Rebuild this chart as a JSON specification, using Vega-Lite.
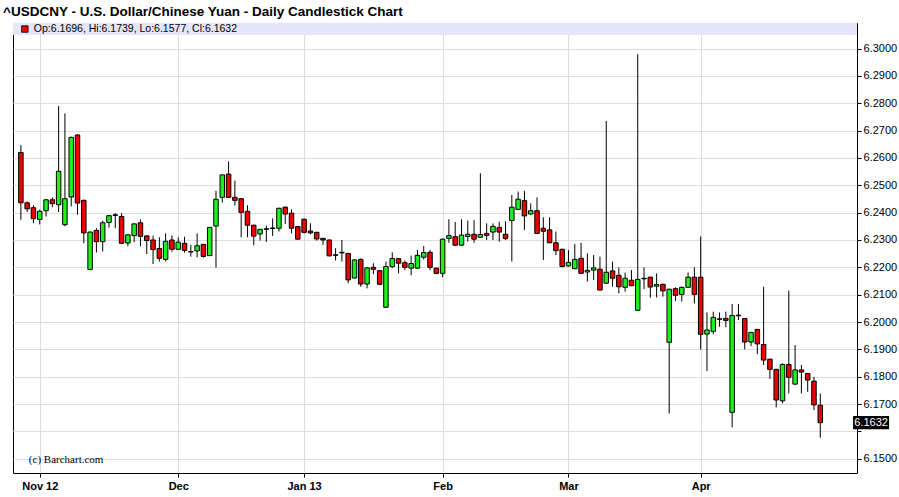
{
  "$schema": "https://vega.github.io/schema/vega-lite/v6.json",
  "autosize": "none",
  "width": 844,
  "height": 450,
  "padding": {"left": 13, "top": 23, "right": 42, "bottom": 24},
  "background": "#ffffff",
  "title": {"text": "^USDCNY - U.S. Dollar/Chinese Yuan - Daily Candlestick Chart", "anchor": "start", "font": "Liberation Sans", "fontSize": 13.5, "fontWeight": "bold", "color": "#000000", "dx": -10, "offset": 4},
  "config": {
    "view": {"stroke": "#000000", "strokeWidth": 1},
    "axis": {"domain": false, "gridColor": "#dcdcdc", "gridWidth": 1, "tickColor": "#000000", "labelColor": "#000000", "labelFont": "Liberation Sans", "labelOverlap": false, "labelSeparation": 0}
  },
  "data": {"values": [
    {"i":0,"o":6.2620,"h":6.2647,"l":6.2374,"c":6.2436},
    {"i":1,"o":6.2436,"h":6.2441,"l":6.2402,"c":6.2414},
    {"i":2,"o":6.2418,"h":6.2427,"l":6.2362,"c":6.2378},
    {"i":3,"o":6.2375,"h":6.2411,"l":6.2357,"c":6.2405},
    {"i":4,"o":6.2407,"h":6.2449,"l":6.2386,"c":6.2447},
    {"i":5,"o":6.2447,"h":6.2456,"l":6.2420,"c":6.2433},
    {"i":6,"o":6.2429,"h":6.2790,"l":6.2402,"c":6.2551},
    {"i":7,"o":6.2356,"h":6.2763,"l":6.2350,"c":6.2451},
    {"i":8,"o":6.2457,"h":6.2678,"l":6.2423,"c":6.2675},
    {"i":9,"o":6.2684,"h":6.2686,"l":6.2392,"c":6.2435},
    {"i":10,"o":6.2445,"h":6.2448,"l":6.2288,"c":6.2326},
    {"i":11,"o":6.2192,"h":6.2331,"l":6.2190,"c":6.2329},
    {"i":12,"o":6.2335,"h":6.2343,"l":6.2254,"c":6.2294},
    {"i":13,"o":6.2294,"h":6.2371,"l":6.2258,"c":6.2363},
    {"i":14,"o":6.2364,"h":6.2390,"l":6.2345,"c":6.2389},
    {"i":15,"o":6.2392,"h":6.2398,"l":6.2343,"c":6.2390},
    {"i":16,"o":6.2386,"h":6.2398,"l":6.2286,"c":6.2288},
    {"i":17,"o":6.2289,"h":6.2320,"l":6.2277,"c":6.2319},
    {"i":18,"o":6.2316,"h":6.2360,"l":6.2292,"c":6.2359},
    {"i":19,"o":6.2363,"h":6.2375,"l":6.2277,"c":6.2313},
    {"i":20,"o":6.2315,"h":6.2317,"l":6.2249,"c":6.2298},
    {"i":21,"o":6.2300,"h":6.2316,"l":6.2212,"c":6.2265},
    {"i":22,"o":6.2269,"h":6.2310,"l":6.2221,"c":6.2233},
    {"i":23,"o":6.2229,"h":6.2324,"l":6.2221,"c":6.2295},
    {"i":24,"o":6.2300,"h":6.2317,"l":6.2257,"c":6.2266},
    {"i":25,"o":6.2266,"h":6.2310,"l":6.2264,"c":6.2292},
    {"i":26,"o":6.2288,"h":6.2312,"l":6.2254,"c":6.2262},
    {"i":27,"o":6.2258,"h":6.2282,"l":6.2239,"c":6.2256},
    {"i":28,"o":6.2260,"h":6.2324,"l":6.2237,"c":6.2279},
    {"i":29,"o":6.2284,"h":6.2286,"l":6.2236,"c":6.2240},
    {"i":30,"o":6.2243,"h":6.2347,"l":6.2241,"c":6.2346},
    {"i":31,"o":6.2351,"h":6.2480,"l":6.2199,"c":6.2449},
    {"i":32,"o":6.2456,"h":6.2540,"l":6.2437,"c":6.2538},
    {"i":33,"o":6.2541,"h":6.2587,"l":6.2454,"c":6.2456},
    {"i":34,"o":6.2456,"h":6.2517,"l":6.2426,"c":6.2445},
    {"i":35,"o":6.2451,"h":6.2453,"l":6.2310,"c":6.2401},
    {"i":36,"o":6.2405,"h":6.2427,"l":6.2310,"c":6.2354},
    {"i":37,"o":6.2354,"h":6.2356,"l":6.2281,"c":6.2314},
    {"i":38,"o":6.2322,"h":6.2341,"l":6.2298,"c":6.2339},
    {"i":39,"o":6.2341,"h":6.2353,"l":6.2293,"c":6.2339},
    {"i":40,"o":6.2344,"h":6.2379,"l":6.2315,"c":6.2342},
    {"i":41,"o":6.2343,"h":6.2418,"l":6.2331,"c":6.2416},
    {"i":42,"o":6.2420,"h":6.2422,"l":6.2359,"c":6.2395},
    {"i":43,"o":6.2398,"h":6.2412,"l":6.2324,"c":6.2343},
    {"i":44,"o":6.2349,"h":6.2351,"l":6.2301,"c":6.2303},
    {"i":45,"o":6.2376,"h":6.2378,"l":6.2324,"c":6.2328},
    {"i":46,"o":6.2333,"h":6.2361,"l":6.2321,"c":6.2326},
    {"i":47,"o":6.2328,"h":6.2330,"l":6.2298,"c":6.2304},
    {"i":48,"o":6.2306,"h":6.2308,"l":6.2282,"c":6.2300},
    {"i":49,"o":6.2300,"h":6.2302,"l":6.2240,"c":6.2242},
    {"i":50,"o":6.2246,"h":6.2270,"l":6.2225,"c":6.2244},
    {"i":51,"o":6.2255,"h":6.2300,"l":6.2221,"c":6.2253},
    {"i":52,"o":6.2251,"h":6.2253,"l":6.2142,"c":6.2154},
    {"i":53,"o":6.2161,"h":6.2229,"l":6.2159,"c":6.2227},
    {"i":54,"o":6.2229,"h":6.2233,"l":6.2129,"c":6.2139},
    {"i":55,"o":6.2139,"h":6.2200,"l":6.2123,"c":6.2198},
    {"i":56,"o":6.2200,"h":6.2215,"l":6.2175,"c":6.2193},
    {"i":57,"o":6.2188,"h":6.2190,"l":6.2136,"c":6.2138},
    {"i":58,"o":6.2054,"h":6.2221,"l":6.2052,"c":6.2203},
    {"i":59,"o":6.2203,"h":6.2255,"l":6.2197,"c":6.2232},
    {"i":60,"o":6.2232,"h":6.2234,"l":6.2178,"c":6.2215},
    {"i":61,"o":6.2217,"h":6.2225,"l":6.2190,"c":6.2200},
    {"i":62,"o":6.2197,"h":6.2243,"l":6.2171,"c":6.2214},
    {"i":63,"o":6.2197,"h":6.2264,"l":6.2195,"c":6.2244},
    {"i":64,"o":6.2237,"h":6.2278,"l":6.2229,"c":6.2254},
    {"i":65,"o":6.2255,"h":6.2264,"l":6.2190,"c":6.2200},
    {"i":66,"o":6.2197,"h":6.2199,"l":6.2175,"c":6.2178},
    {"i":67,"o":6.2178,"h":6.2305,"l":6.2164,"c":6.2303},
    {"i":68,"o":6.2306,"h":6.2376,"l":6.2290,"c":6.2316},
    {"i":69,"o":6.2312,"h":6.2366,"l":6.2278,"c":6.2281},
    {"i":70,"o":6.2281,"h":6.2376,"l":6.2279,"c":6.2318},
    {"i":71,"o":6.2313,"h":6.2371,"l":6.2294,"c":6.2321},
    {"i":72,"o":6.2321,"h":6.2373,"l":6.2290,"c":6.2303},
    {"i":73,"o":6.2310,"h":6.2544,"l":6.2308,"c":6.2320},
    {"i":74,"o":6.2324,"h":6.2361,"l":6.2300,"c":6.2317},
    {"i":75,"o":6.2329,"h":6.2361,"l":6.2300,"c":6.2350},
    {"i":76,"o":6.2346,"h":6.2367,"l":6.2294,"c":6.2329},
    {"i":77,"o":6.2321,"h":6.2368,"l":6.2300,"c":6.2305},
    {"i":78,"o":6.2371,"h":6.2465,"l":6.2221,"c":6.2420},
    {"i":79,"o":6.2412,"h":6.2477,"l":6.2410,"c":6.2449},
    {"i":80,"o":6.2444,"h":6.2480,"l":6.2337,"c":6.2388},
    {"i":81,"o":6.2395,"h":6.2434,"l":6.2393,"c":6.2407},
    {"i":82,"o":6.2407,"h":6.2456,"l":6.2322,"c":6.2324},
    {"i":83,"o":6.2343,"h":6.2383,"l":6.2227,"c":6.2332},
    {"i":84,"o":6.2337,"h":6.2383,"l":6.2288,"c":6.2290},
    {"i":85,"o":6.2290,"h":6.2331,"l":6.2245,"c":6.2261},
    {"i":86,"o":6.2266,"h":6.2268,"l":6.2200,"c":6.2203},
    {"i":87,"o":6.2205,"h":6.2263,"l":6.2203,"c":6.2218},
    {"i":88,"o":6.2195,"h":6.2285,"l":6.2193,"c":6.2229},
    {"i":89,"o":6.2233,"h":6.2290,"l":6.2176,"c":6.2178},
    {"i":90,"o":6.2183,"h":6.2251,"l":6.2148,"c":6.2189},
    {"i":91,"o":6.2190,"h":6.2245,"l":6.2154,"c":6.2198},
    {"i":92,"o":6.2193,"h":6.2239,"l":6.2115,"c":6.2117},
    {"i":93,"o":6.2142,"h":6.2735,"l":6.2140,"c":6.2182},
    {"i":94,"o":6.2187,"h":6.2221,"l":6.2129,"c":6.2160},
    {"i":95,"o":6.2171,"h":6.2200,"l":6.2105,"c":6.2129},
    {"i":96,"o":6.2127,"h":6.2181,"l":6.2111,"c":6.2160},
    {"i":97,"o":6.2153,"h":6.2190,"l":6.2131,"c":6.2133},
    {"i":98,"o":6.2043,"h":6.2979,"l":6.2041,"c":6.2156},
    {"i":99,"o":6.2160,"h":6.2200,"l":6.2120,"c":6.2158},
    {"i":100,"o":6.2164,"h":6.2166,"l":6.2089,"c":6.2128},
    {"i":101,"o":6.2131,"h":6.2178,"l":6.2090,"c":6.2137},
    {"i":102,"o":6.2138,"h":6.2140,"l":6.2093,"c":6.2114},
    {"i":103,"o":6.1926,"h":6.2122,"l":6.1666,"c":6.2120},
    {"i":104,"o":6.2122,"h":6.2127,"l":6.2077,"c":6.2098},
    {"i":105,"o":6.2101,"h":6.2129,"l":6.2075,"c":6.2127},
    {"i":106,"o":6.2127,"h":6.2181,"l":6.2125,"c":6.2164},
    {"i":107,"o":6.2164,"h":6.2200,"l":6.2068,"c":6.2101},
    {"i":108,"o":6.2164,"h":6.2313,"l":6.1899,"c":6.1955},
    {"i":109,"o":6.1956,"h":6.2035,"l":6.1821,"c":6.1971},
    {"i":110,"o":6.1966,"h":6.2038,"l":6.1956,"c":6.2017},
    {"i":111,"o":6.2012,"h":6.2035,"l":6.1983,"c":6.2010},
    {"i":112,"o":6.2013,"h":6.2038,"l":6.1981,"c":6.2006},
    {"i":113,"o":6.1670,"h":6.2066,"l":6.1615,"c":6.2024},
    {"i":114,"o":6.2025,"h":6.2066,"l":6.2007,"c":6.2023},
    {"i":115,"o":6.2013,"h":6.2015,"l":6.1900,"c":6.1927},
    {"i":116,"o":6.1927,"h":6.1964,"l":6.1912,"c":6.1962},
    {"i":117,"o":6.1973,"h":6.1975,"l":6.1883,"c":6.1920},
    {"i":118,"o":6.1918,"h":6.2129,"l":6.1843,"c":6.1861},
    {"i":119,"o":6.1864,"h":6.1866,"l":6.1792,"c":6.1827},
    {"i":120,"o":6.1827,"h":6.1829,"l":6.1688,"c":6.1715},
    {"i":121,"o":6.1712,"h":6.1849,"l":6.1703,"c":6.1845},
    {"i":122,"o":6.1845,"h":6.2115,"l":6.1739,"c":6.1798},
    {"i":123,"o":6.1773,"h":6.1916,"l":6.1771,"c":6.1825},
    {"i":124,"o":6.1825,"h":6.1843,"l":6.1739,"c":6.1817},
    {"i":125,"o":6.1812,"h":6.1814,"l":6.1745,"c":6.1788},
    {"i":126,"o":6.1784,"h":6.1800,"l":6.1678,"c":6.1697},
    {"i":127,"o":6.1696,"h":6.1739,"l":6.1577,"c":6.1632}
  ]},
  "layer": [
    {
      "mark": {"type": "rule", "color": "#000000", "strokeWidth": 1},
      "encoding": {
        "x": {"field": "i", "type": "quantitative",
              "scale": {"domain": [-0.455, 132.04], "nice": false, "zero": false},
              "axis": {"values": [3, 25, 45, 67, 87, 108], "tickCount": 30, "title": null, "grid": true, "tickSize": 4, "labelPadding": 3, "labelFontSize": 11, "labelFontWeight": "bold", "labelFlush": false,
                       "labelExpr": "datum.value == 3 ? 'Nov 12' : datum.value == 25 ? 'Dec' : datum.value == 45 ? 'Jan 13' : datum.value == 67 ? 'Feb' : datum.value == 87 ? 'Mar' : 'Apr'"}},
        "y": {"field": "l", "type": "quantitative",
              "scale": {"domain": [6.14481, 6.30934], "nice": false, "zero": false},
              "axis": {"orient": "right", "title": null, "values": [6.15, 6.16, 6.17, 6.18, 6.19, 6.2, 6.21, 6.22, 6.23, 6.24, 6.25, 6.26, 6.27, 6.28, 6.29, 6.3], "tickCount": 30, "labelOverlap": false, "labelBound": false,
                       "labelExpr": "(datum.value > 6.1595 && datum.value < 6.1605) ? '' : format(datum.value, '.4f')",
                       "grid": true, "tickSize": 4, "labelPadding": 2, "labelFontSize": 11}},
        "y2": {"field": "h"}
      }
    },
    {
      "data": {"values": [{"top": 6.3094, "bottom": 6.30495}]},
      "mark": {"type": "rect", "fill": "#e4e4fb"},
      "encoding": {
        "y": {"field": "bottom", "type": "quantitative"},
        "y2": {"field": "top"}
      }
    },
    {
      "mark": {"type": "bar", "width": 4.5, "stroke": "#000000", "strokeWidth": 1},
      "encoding": {
        "x": {"field": "i", "type": "quantitative"},
        "y": {"field": "o", "type": "quantitative"},
        "y2": {"field": "c"},
        "fill": {"condition": {"test": "datum.c < datum.o", "value": "#ee0000"}, "value": "#1ef01e"}
      }
    },
    {
      "data": {"values": [{"pos": 0, "price": 6.30714, "label": "Op:6.1696, Hi:6.1739, Lo:6.1577, Cl:6.1632"}]},
      "layer": [
        {
          "mark": {"type": "point", "shape": "square", "filled": true, "size": 42, "fill": "#ee0000", "stroke": "#000000", "strokeWidth": 0.8, "opacity": 1, "xOffset": 4},
          "encoding": {
            "x": {"field": "pos", "type": "quantitative"},
            "y": {"field": "price", "type": "quantitative"}
          }
        },
        {
          "mark": {"type": "text", "align": "left", "baseline": "middle", "dx": 13, "font": "Liberation Sans", "fontSize": 10.5, "color": "#000000"},
          "encoding": {
            "x": {"field": "pos", "type": "quantitative"},
            "y": {"field": "price", "type": "quantitative"},
            "text": {"field": "label"}
          }
        }
      ]
    },
    {
      "data": {"values": [{"pos": 0, "price": 6.1496, "label": "(c) Barchart.com"}]},
      "mark": {"type": "text", "align": "left", "baseline": "middle", "dx": 8, "font": "Liberation Sans Narrow", "fontSize": 11, "color": "#000000"},
      "encoding": {
        "x": {"field": "pos", "type": "quantitative"},
        "y": {"field": "price", "type": "quantitative"},
        "text": {"field": "label"}
      }
    },
    {
      "data": {"values": [{"pos": 135.07, "price": 6.1632, "label": "6.1632"}]},
      "layer": [
        {
          "mark": {"type": "point", "shape": "M-1,-0.37L1,-0.37L1,0.37L-1,0.37Z", "filled": true, "size": 1296, "fill": "#000000", "opacity": 1, "clip": false},
          "encoding": {
            "x": {"field": "pos", "type": "quantitative"},
            "y": {"field": "price", "type": "quantitative"}
          }
        },
        {
          "mark": {"type": "text", "align": "center", "baseline": "middle", "font": "Liberation Sans", "fontSize": 11, "color": "#ffffff", "clip": false},
          "encoding": {
            "x": {"field": "pos", "type": "quantitative"},
            "y": {"field": "price", "type": "quantitative"},
            "text": {"field": "label"}
          }
        }
      ]
    }
  ]
}
